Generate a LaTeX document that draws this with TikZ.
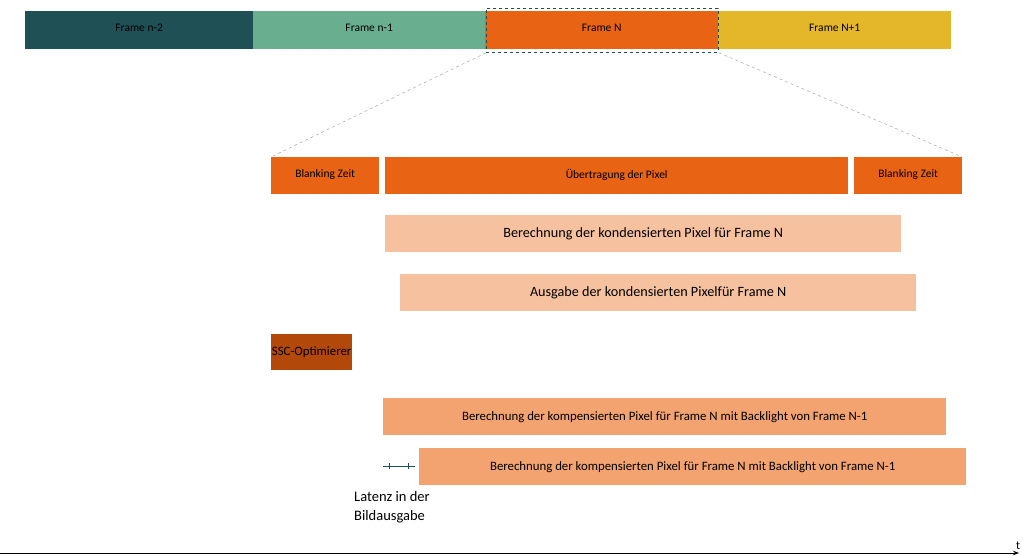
\documentclass[tikz,border=0pt]{standalone}
\usepackage{fontspec}
\setmainfont{Carlito}
\usetikzlibrary{arrows.meta}

\definecolor{teal1}{HTML}{1F5055}
\definecolor{green1}{HTML}{6AAE90}
\definecolor{orange1}{HTML}{E86314}
\definecolor{yellow1}{HTML}{E4B629}
\definecolor{peach1}{HTML}{F6C19F}
\definecolor{peach2}{HTML}{F2A36F}
\definecolor{rust1}{HTML}{B2490A}

\tikzset{
  bar/.style={anchor=north west, inner sep=0pt, minimum height=38pt, text depth=4pt, font=\fontsize{11.5}{13}\selectfont},
  job/.style={anchor=north west, inner sep=0pt, minimum height=37pt, font=\fontsize{12.8}{15}\selectfont},
  zoomline/.style={gray!70, dashed, line width=0.5pt}
}

\begin{document}
\begin{tikzpicture}[x=1pt,y=1pt]
			\useasboundingbox (0,0) rectangle (1022,-556);
			% frame sequence
			\node[bar, fill=teal1, minimum width=228pt] (fnm2) at (25,-11) {Frame n-2};
			\node[bar, fill=green1, minimum width=232pt] (fnm1) at (253,-11) {Frame n-1};
			\node[bar, fill=orange1, minimum width=233pt] (fn) at (485,-11) {Frame N};
			\node[bar, fill=yellow1, minimum width=233pt] (fnp1) at (718,-11) {Frame N+1};
			\node[anchor=north west, draw=teal1, dashed, line width=0.8pt, minimum width=232pt, minimum height=44pt, inner sep=0pt] (sel) at (486,-8) {};
			% timing of frame N
			\node[bar, fill=orange1, minimum width=108pt, minimum height=37pt] (blank1) at (271,-157) {Blanking Zeit};
			\node[bar, fill=orange1, minimum width=463pt, minimum height=37pt] (pix) at (385,-157) {Übertragung der Pixel};
			\node[bar, fill=orange1, minimum width=108pt, minimum height=37pt] (blank2) at (854,-157) {Blanking Zeit};
			\draw[zoomline] (sel.south west) -- (blank1.north west);
			\draw[zoomline] (sel.south east) -- (blank2.north east);
			% processing
			\node[job, fill=peach1, minimum width=516pt, font=\fontsize{14.2}{16}\selectfont] (kond) at (385,-215) {Berechnung der kondensierten Pixel für Frame N};
			\node[job, fill=peach1, minimum width=516pt, font=\fontsize{14.2}{16}\selectfont] (ausg) at (400,-274) {Ausgabe der kondensierten Pixelfür Frame N};
			\node[job, fill=rust1, minimum width=81pt, minimum height=36pt] (ssc) at (271,-334) {\makebox[0pt]{SSC-Optimierer}};
			\node[job, fill=peach2, minimum width=563pt] (komp1) at (383,-398) {Berechnung der kompensierten Pixel für Frame N mit Backlight von Frame N-1};
			\node[job, fill=peach2, minimum width=547pt] (komp2) at (419,-448) {Berechnung der kompensierten Pixel für Frame N mit Backlight von Frame N-1};
			% latency
			\coordinate (lat1) at (383,-466);
			\coordinate (lat2) at (415,-466);
			\draw[teal1, line width=0.8pt] (lat1) -- (lat2);
			\draw[teal1, line width=0.8pt] ([xshift=6pt,yshift=3pt]lat1) -- ([xshift=6pt,yshift=-3pt]lat1);
			\draw[teal1, line width=0.8pt] ([xshift=-7pt,yshift=3pt]lat2) -- ([xshift=-7pt,yshift=-3pt]lat2);
			\node[anchor=north west, inner sep=0pt, align=left, font=\fontsize{14.5}{19}\selectfont] (latlabel) at (354,-491) {Latenz in der\\Bildausgabe};
			% time axis
			\coordinate (t0) at (0,-553);
			\coordinate (t1) at (1019,-553);
			\draw[line width=0.9pt, -{Stealth[length=6pt]}] (t0) -- (t1);
			\node[anchor=south west, inner sep=0pt, font=\fontsize{12}{14}\selectfont] (tlabel) at (1016,-550) {t};
		\end{tikzpicture}
\end{document}
